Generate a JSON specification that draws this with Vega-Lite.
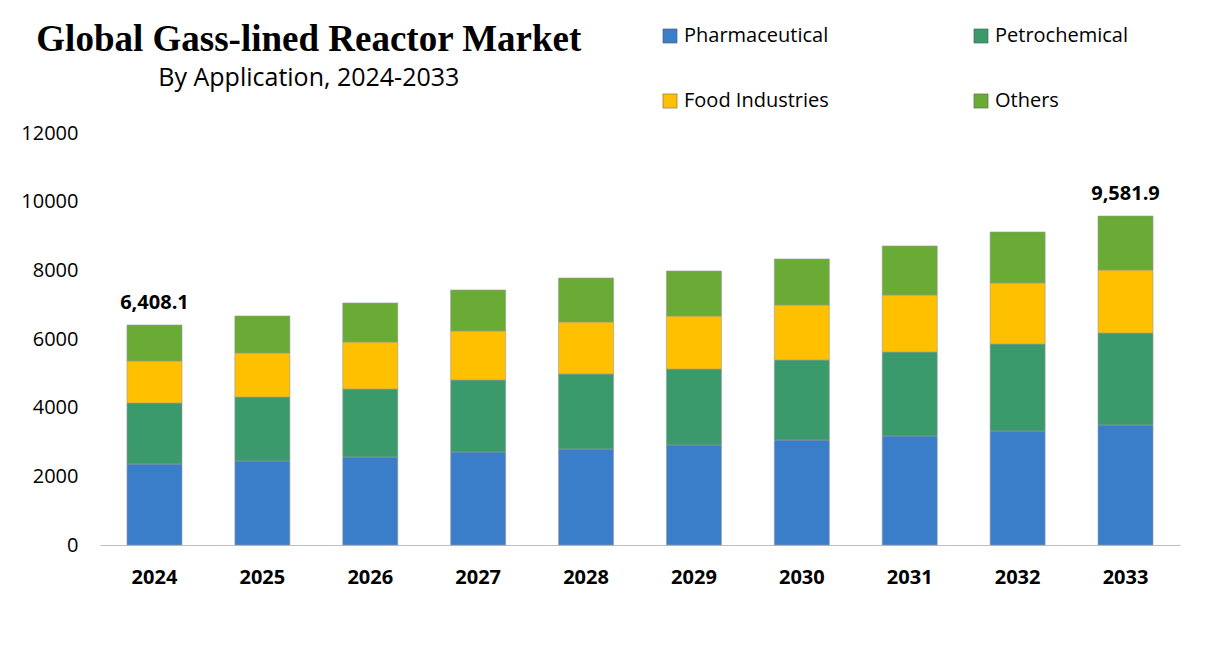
{
  "$schema": "https://vega.github.io/schema/vega-lite/v6.json",
  "autosize": "none",
  "width": 1080,
  "height": 412,
  "padding": {"left": 100, "top": 133, "right": 36, "bottom": 118},
  "background": "white",
  "config": {"view": {"stroke": null}},
  "title": {
    "text": "Global Gass-lined Reactor Market",
    "subtitle": "By Application, 2024-2033",
    "anchor": "start",
    "align": "center",
    "dx": 288,
    "offset": -66,
    "font": "Liberation Serif",
    "fontSize": 37,
    "fontWeight": "bold",
    "color": "black",
    "subtitleFont": "Open Sans",
    "subtitleFontSize": 25,
    "subtitleColor": "black",
    "subtitlePadding": 7
  },
  "datasets": {
    "totals": [
      {"year": "2024", "total": 6408.1, "label": "6,408.1"},
      {"year": "2033", "total": 9581.9, "label": "9,581.9"}
    ]
  },
  "data": {
    "values": [
      {"year": "2024", "segment": "Pharmaceutical", "value": 2360},
      {"year": "2024", "segment": "Petrochemical", "value": 1776},
      {"year": "2024", "segment": "Food Industries", "value": 1224},
      {"year": "2024", "segment": "Others", "value": 1048},
      {"year": "2025", "segment": "Pharmaceutical", "value": 2447},
      {"year": "2025", "segment": "Petrochemical", "value": 1864},
      {"year": "2025", "segment": "Food Industries", "value": 1282},
      {"year": "2025", "segment": "Others", "value": 1077},
      {"year": "2026", "segment": "Pharmaceutical", "value": 2563},
      {"year": "2026", "segment": "Petrochemical", "value": 1981},
      {"year": "2026", "segment": "Food Industries", "value": 1369},
      {"year": "2026", "segment": "Others", "value": 1136},
      {"year": "2027", "segment": "Pharmaceutical", "value": 2709},
      {"year": "2027", "segment": "Petrochemical", "value": 2097},
      {"year": "2027", "segment": "Food Industries", "value": 1428},
      {"year": "2027", "segment": "Others", "value": 1194},
      {"year": "2028", "segment": "Pharmaceutical", "value": 2796},
      {"year": "2028", "segment": "Petrochemical", "value": 2185},
      {"year": "2028", "segment": "Food Industries", "value": 1515},
      {"year": "2028", "segment": "Others", "value": 1281},
      {"year": "2029", "segment": "Pharmaceutical", "value": 2913},
      {"year": "2029", "segment": "Petrochemical", "value": 2214},
      {"year": "2029", "segment": "Food Industries", "value": 1543},
      {"year": "2029", "segment": "Others", "value": 1311},
      {"year": "2030", "segment": "Pharmaceutical", "value": 3058},
      {"year": "2030", "segment": "Petrochemical", "value": 2331},
      {"year": "2030", "segment": "Food Industries", "value": 1602},
      {"year": "2030", "segment": "Others", "value": 1340},
      {"year": "2031", "segment": "Pharmaceutical", "value": 3175},
      {"year": "2031", "segment": "Petrochemical", "value": 2447},
      {"year": "2031", "segment": "Food Industries", "value": 1660},
      {"year": "2031", "segment": "Others", "value": 1428},
      {"year": "2032", "segment": "Pharmaceutical", "value": 3321},
      {"year": "2032", "segment": "Petrochemical", "value": 2534},
      {"year": "2032", "segment": "Food Industries", "value": 1777},
      {"year": "2032", "segment": "Others", "value": 1485},
      {"year": "2033", "segment": "Pharmaceutical", "value": 3496},
      {"year": "2033", "segment": "Petrochemical", "value": 2679},
      {"year": "2033", "segment": "Food Industries", "value": 1835},
      {"year": "2033", "segment": "Others", "value": 1572}
    ]
  },
  "encoding": {
    "x": {
      "field": "year", "type": "ordinal", "title": null,
      "scale": {"paddingInner": 0.49, "paddingOuter": 0.25},
      "axis": {"labelAngle": 0, "labelFont": "Open Sans", "labelFontSize": 20, "labelFontWeight": "bold", "labelColor": "black", "ticks": false, "labelPadding": 22, "domainColor": "#bfbfbf"}
    }
  },
  "layer": [
    {
      "mark": {"type": "bar", "stroke": "#9a9a9a", "strokeWidth": 0.6},
      "encoding": {
        "y": {
          "field": "value", "type": "quantitative", "stack": "zero", "title": null,
          "scale": {"domain": [0, 12000]},
          "axis": {"values": [0, 2000, 4000, 6000, 8000, 10000, 12000], "format": "d", "grid": false, "domain": false, "ticks": false, "labelFont": "Open Sans", "labelFontSize": 20, "labelColor": "black", "labelPadding": 22}
        },
        "color": {
          "field": "segment", "type": "nominal", "title": null,
          "scale": {
            "domain": ["Pharmaceutical", "Petrochemical", "Food Industries", "Others"],
            "range": ["#3a7dc9", "#3a9a6c", "#ffc000", "#6aab35"]
          },
          "legend": {
            "orient": "none", "legendX": 560, "legendY": -107, "columns": 2, "direction": "horizontal",
            "symbolType": "square", "symbolSize": 200, "symbolStrokeColor": "#555", "symbolStrokeWidth": 0.5,
            "labelFont": "Open Sans", "labelFontSize": 20, "labelColor": "black",
            "labelLimit": 300, "columnPadding": 142, "rowPadding": 45
          }
        },
        "order": {"field": "order", "type": "quantitative"}
      }
    },
    {
      "data": {"name": "totals"},
      "mark": {"type": "text", "dy": -22, "font": "Open Sans", "fontSize": 20, "fontWeight": "bold", "color": "black"},
      "encoding": {
        "y": {"field": "total", "type": "quantitative"},
        "text": {"field": "label"}
      }
    }
  ]
}
